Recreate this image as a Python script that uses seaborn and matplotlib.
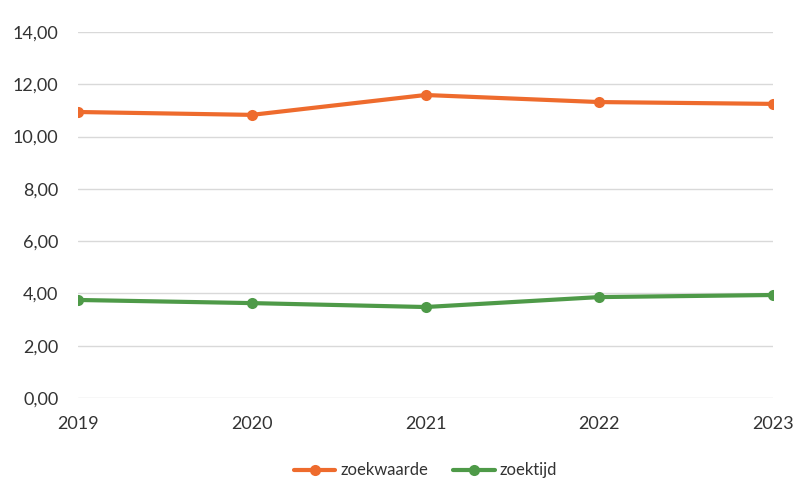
import matplotlib
matplotlib.use("Agg")
import matplotlib.pyplot as plt
import seaborn as sns
import pandas as pd

years = ["2019", "2020", "2021", "2022", "2023"]
zoekwaarde = [10.94, 10.83, 11.59, 11.32, 11.25]
zoektijd = [3.75, 3.63, 3.48, 3.86, 3.94]
y_ticks = [0, 2, 4, 6, 8, 10, 12, 14]

sns.set_theme(style="white")
plt.rcParams["font.family"] = ["Lato", "DejaVu Sans"]

df = pd.DataFrame({
    "jaar": years * 2,
    "waarde": zoekwaarde + zoektijd,
    "reeks": ["zoekwaarde"] * len(years) + ["zoektijd"] * len(years),
})

fig = plt.figure(figsize=(7.95, 4.79), dpi=100)
ax = fig.add_axes([78 / 795, 1 - 398 / 479, (773 - 78) / 795, (398 - 32) / 479])

sns.lineplot(
    data=df, x="jaar", y="waarde", hue="reeks",
    palette={"zoekwaarde": "#EE6B2D", "zoektijd": "#4E9A48"},
    marker="o", markersize=8, markeredgewidth=0, linewidth=3,
    ax=ax, legend=True,
)

ax.set_ylim(0, 14)
ax.set_xlim(0, len(years) - 1)
ax.set_yticks(y_ticks)
ax.set_yticklabels([f"{v:.2f}".replace(".", ",") for v in y_ticks])
ax.grid(axis="y", color="#D9D9D9", linewidth=1)
ax.grid(axis="x", visible=False)
for s in ax.spines.values():
    s.set_visible(False)
ax.set_xlabel("")
ax.set_ylabel("")
ax.tick_params(axis="y", labelsize=13, colors="#333333", pad=14, length=0)
ax.tick_params(axis="x", labelsize=13, colors="#333333", pad=13, length=0)

handles, labels = ax.get_legend_handles_labels()
ax.legend(handles, labels, loc="upper center", bbox_to_anchor=(0.5, -0.135),
          ncol=2, frameon=False, fontsize=12, handlelength=2.5,
          columnspacing=1.5, handletextpad=0.3, labelcolor="#333333")

fig.savefig("out.png", dpi=100, facecolor="white")
